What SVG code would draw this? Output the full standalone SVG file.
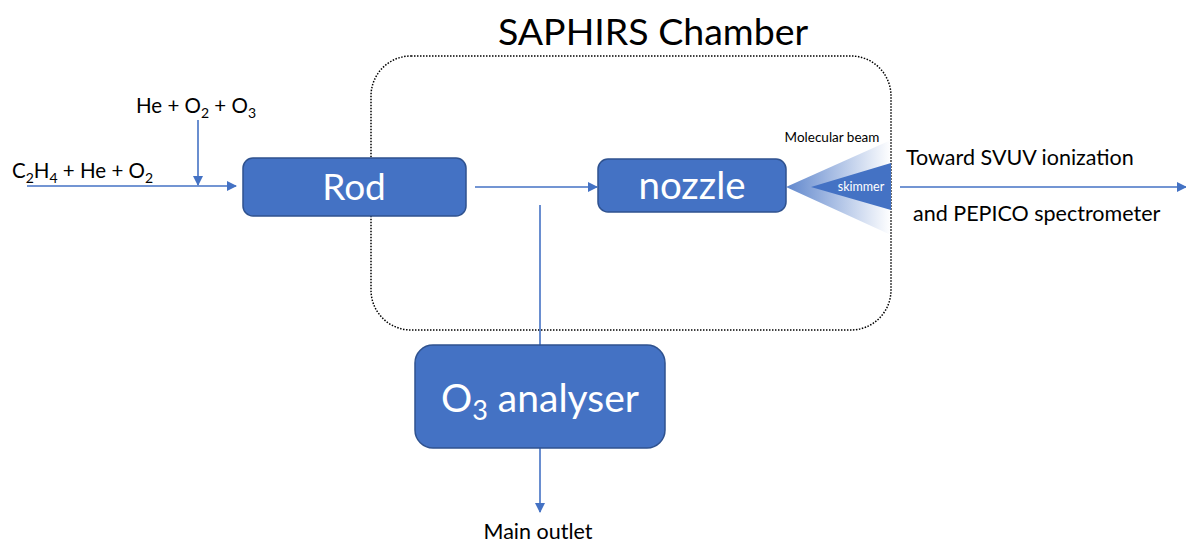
<svg xmlns="http://www.w3.org/2000/svg" width="1186" height="546" viewBox="0 0 1186 546">
<defs>
<style>
.box{fill:#4472C4;stroke:#2F528F;stroke-width:1.5}
.lbl{font-family:Lato,"Open Sans",sans-serif;fill:#000}
.wt{font-family:Lato,"Open Sans",sans-serif;fill:#fff}
.conn{stroke:#4472C4;stroke-width:1.6;fill:none}
</style>
<marker id="ah" markerWidth="10" markerHeight="10" refX="9" refY="5" orient="auto" markerUnits="userSpaceOnUse">
<path d="M0,0 L10,5 L0,10 z" fill="#4472C4"/>
</marker>
<linearGradient id="beam" x1="0" y1="0" x2="1" y2="0">
<stop offset="0" stop-color="#4472C4" stop-opacity="0.85"/>
<stop offset="1" stop-color="#4472C4" stop-opacity="0"/>
</linearGradient>
</defs>
<rect width="1186" height="546" fill="#fff"/>
<g id="chamber">
<rect x="371" y="56" width="520" height="274" rx="40" fill="none" stroke="#000" stroke-width="1.5" stroke-dasharray="1.5 1.5"/>
<text class="lbl" x="653" y="45" font-size="37.5" text-anchor="middle">SAPHIRS Chamber</text>
</g>
<g id="connectors">
<line class="conn" x1="27" y1="186" x2="236" y2="186" marker-end="url(#ah)"/>
<line class="conn" x1="198" y1="120" x2="198" y2="185" marker-end="url(#ah)"/>
<line class="conn" x1="475" y1="187" x2="597" y2="187" marker-end="url(#ah)"/>
<line class="conn" x1="540" y1="205" x2="540" y2="345"/>
<line class="conn" x1="540" y1="448" x2="540" y2="512" marker-end="url(#ah)"/>
<line class="conn" x1="900" y1="187" x2="1186" y2="187" marker-end="url(#ah)"/>
</g>
<g id="inputs">
<text class="lbl" x="136" y="113" font-size="20.5">He + O<tspan font-size="14" dy="5">2</tspan><tspan dy="-5"> + O</tspan><tspan font-size="14" dy="5">3</tspan></text>
<text class="lbl" x="12" y="178" font-size="20.5">C<tspan font-size="14" dy="5">2</tspan><tspan dy="-5">H</tspan><tspan font-size="14" dy="5">4</tspan><tspan dy="-5"> + He + O</tspan><tspan font-size="14" dy="5">2</tspan></text>
</g>
<g id="rod">
<rect class="box" x="243" y="158" width="223" height="58" rx="10"/>
<text class="wt" x="354" y="200" font-size="37" text-anchor="middle">Rod</text>
</g>
<g id="nozzle">
<rect class="box" x="598" y="159" width="188" height="53" rx="10"/>
<text class="wt" x="692" y="199" font-size="38.5" text-anchor="middle">nozzle</text>
</g>
<g id="beam">
<polygon points="786,187 891,140 891,235" fill="url(#beam)"/>
<text class="lbl" x="832" y="142" font-size="13.5" text-anchor="middle">Molecular beam</text>
</g>
<g id="skimmer">
<polygon points="811,187 891,163 891,210" fill="#4472C4"/>
<text class="wt" x="861" y="191" font-size="12.5" text-anchor="middle">skimmer</text>
</g>
<g id="output">
<text class="lbl" x="906" y="165" font-size="21.5">Toward SVUV ionization</text>
<text class="lbl" x="913" y="221" font-size="21.5">and PEPICO spectrometer</text>
</g>
<g id="analyser">
<rect class="box" x="415" y="345" width="250" height="103" rx="18"/>
<text class="wt" x="540" y="412" font-size="39" text-anchor="middle">O<tspan font-size="27" dy="8">3</tspan><tspan dy="-8"> analyser</tspan></text>
</g>
<g id="outlet">
<text class="lbl" x="538" y="539" font-size="21.5" text-anchor="middle">Main outlet</text>
</g>
</svg>
